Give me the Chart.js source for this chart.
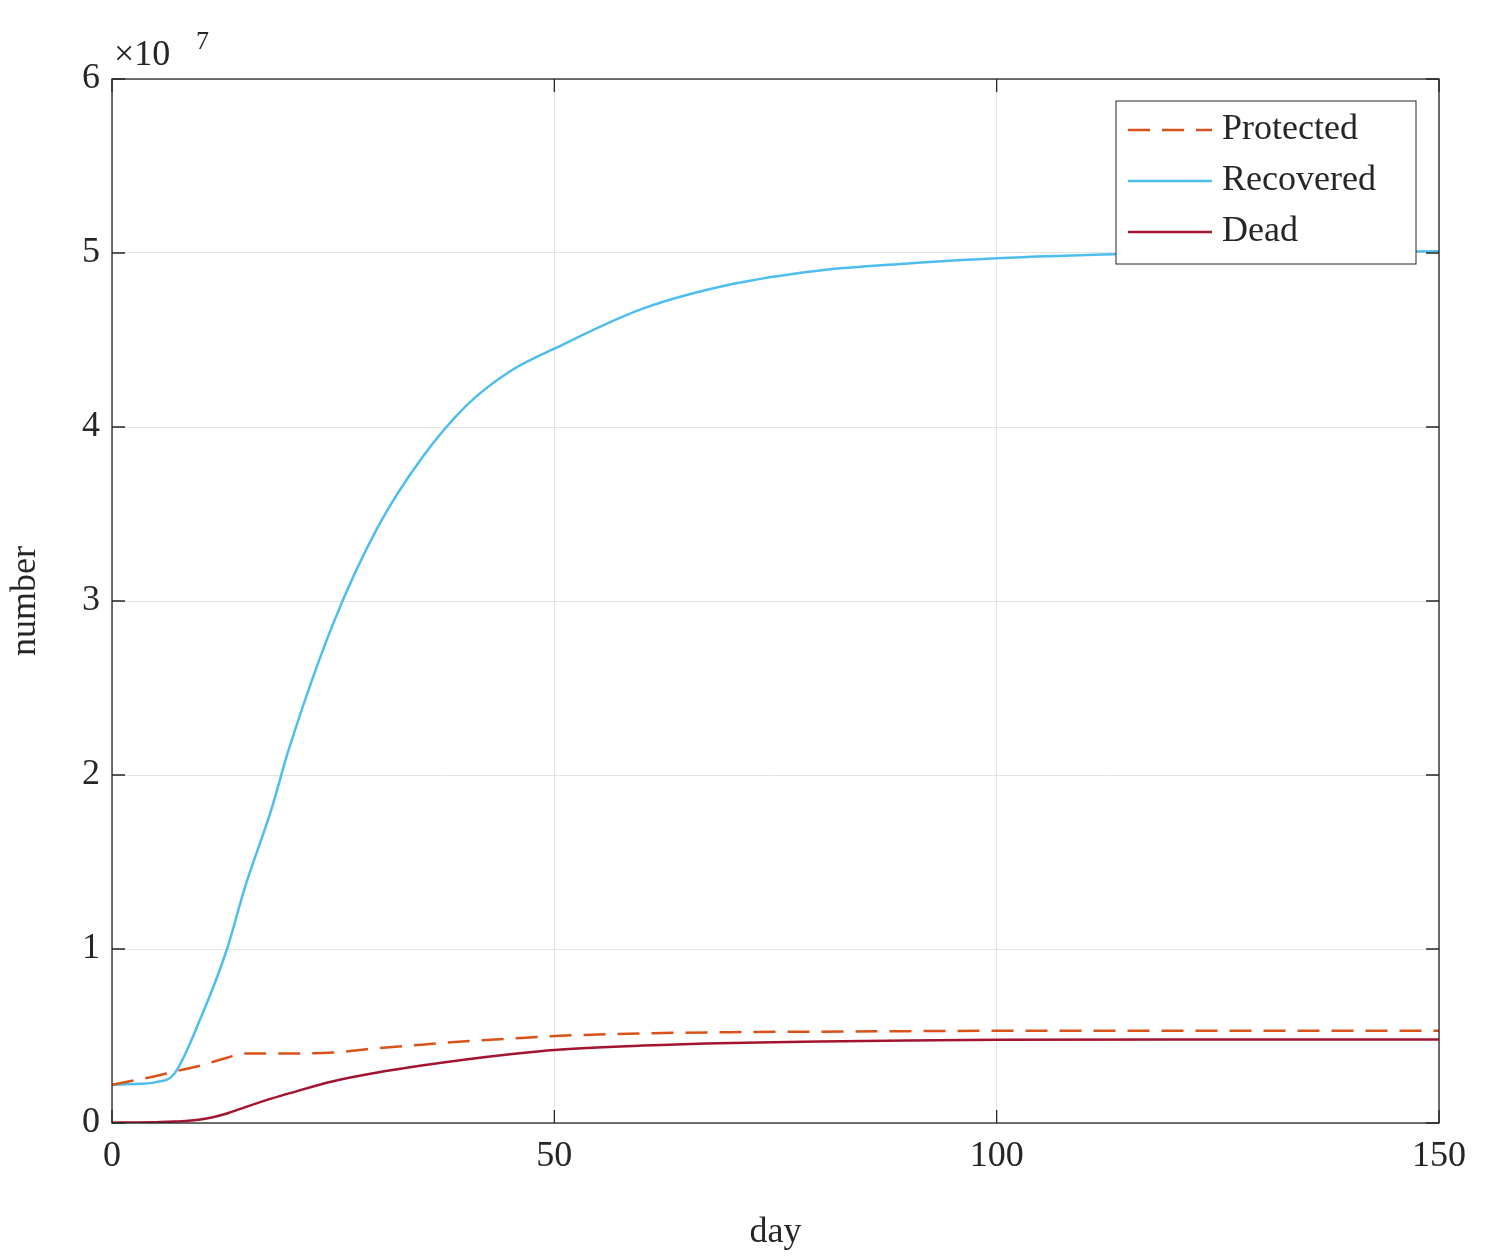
<!DOCTYPE html>
<html>
<head>
<meta charset="utf-8">
<script src="https://cdn.jsdelivr.net/npm/chart.js@4"></script>
<style>
  html, body { margin: 0; padding: 0; background: #fff; }
  #wrap { width: 1500px; height: 1258px; }
</style>
</head>
<body>
<div id="wrap"><canvas id="c"></canvas></div>
<script>
const days = [0, 3, 5, 7, 10, 13, 15, 18, 20, 25, 30, 35, 40, 45, 50, 60, 70, 80, 90, 100, 120, 150];
const recovered = [2.2e6, 2.25e6, 2.35e6, 2.8e6, 6.0e6, 1.0e7, 1.35e7, 1.8e7, 2.15e7, 2.87e7, 3.42e7, 3.82e7, 4.12e7, 4.32e7, 4.45e7, 4.68e7, 4.82e7, 4.9e7, 4.94e7, 4.97e7, 5.0e7, 5.01e7];
const protectedN = [2.2e6, 2.5e6, 2.7e6, 2.95e6, 3.3e6, 3.75e6, 4.0e6, 4.0e6, 4.0e6, 4.05e6, 4.3e6, 4.5e6, 4.7e6, 4.85e6, 5.0e6, 5.15e6, 5.22e6, 5.25e6, 5.28e6, 5.3e6, 5.3e6, 5.3e6];
const dead = [0.02e6, 0.03e6, 0.05e6, 0.08e6, 0.2e6, 0.55e6, 0.9e6, 1.4e6, 1.7e6, 2.4e6, 2.9e6, 3.3e6, 3.65e6, 3.95e6, 4.2e6, 4.45e6, 4.6e6, 4.68e6, 4.74e6, 4.78e6, 4.8e6, 4.8e6];
const seriesNames = ['Protected', 'Recovered', 'Dead'];
const xTicks = [0, 50, 100, 150];

const FONT = '"Liberation Serif", "DejaVu Serif", serif';
const pts = arr => days.map((d, i) => ({ x: d, y: arr[i] }));

// box, inward ticks, exponent label and legend, matlab style
const decor = {
  id: 'decor',
  afterDraw(chart) {
    const { ctx, chartArea: a, scales: { x, y } } = chart;
    ctx.save();
    ctx.strokeStyle = '#262626';
    ctx.lineWidth = 1.3;
    ctx.strokeRect(a.left, a.top, a.right - a.left, a.bottom - a.top);
    ctx.beginPath();
    xTicks.forEach(v => {
      const px = x.getPixelForValue(v);
      ctx.moveTo(px, a.bottom); ctx.lineTo(px, a.bottom - 13);
      ctx.moveTo(px, a.top); ctx.lineTo(px, a.top + 13);
    });
    for (let v = 0; v <= 6e7; v += 1e7) {
      const py = y.getPixelForValue(v);
      ctx.moveTo(a.left, py); ctx.lineTo(a.left + 13, py);
      ctx.moveTo(a.right, py); ctx.lineTo(a.right - 13, py);
    }
    ctx.stroke();

    ctx.fillStyle = '#262626';
    ctx.font = '36px ' + FONT;
    ctx.textBaseline = 'alphabetic';
    ctx.fillText('\u00d710', a.left + 2, a.top - 14);
    ctx.font = '26px ' + FONT;
    ctx.fillText('7', a.left + 84, a.top - 30);

    // legend
    const lx = 1116, ly = 101, lw = 300, lh = 163;
    ctx.fillStyle = '#fff';
    ctx.fillRect(lx, ly, lw, lh);
    ctx.lineWidth = 1;
    ctx.strokeRect(lx, ly, lw, lh);
    ctx.font = '36px ' + FONT;
    ctx.textBaseline = 'middle';
    chart.data.datasets.forEach((ds, i) => {
      const cy = ly + 29 + i * 51;
      ctx.strokeStyle = ds.borderColor;
      ctx.lineWidth = ds.borderWidth;
      ctx.setLineDash(ds.borderDash || []);
      ctx.beginPath();
      ctx.moveTo(lx + 12, cy); ctx.lineTo(lx + 96, cy);
      ctx.stroke();
      ctx.setLineDash([]);
      ctx.fillStyle = '#262626';
      ctx.fillText(ds.label, lx + 106, cy);
    });
    ctx.restore();
  }
};

new Chart(document.getElementById('c'), {
  type: 'line',
  data: {
    datasets: [
      { label: seriesNames[0], data: pts(protectedN), borderColor: '#d95319', borderWidth: 2.5, borderDash: [22, 12] },
      { label: seriesNames[1], data: pts(recovered), borderColor: '#4dbeee', borderWidth: 2.5 },
      { label: seriesNames[2], data: pts(dead), borderColor: '#a2142f', borderWidth: 2.5 },
    ]
  },
  options: {
    responsive: true,
    maintainAspectRatio: false,
    animation: false,
    elements: { point: { radius: 0 }, line: { cubicInterpolationMode: 'monotone' } },
    layout: { padding: { top: 79, right: 61, left: 0, bottom: 0 } },
    plugins: { legend: { display: false }, tooltip: { enabled: false } },
    scales: {
      x: {
        type: 'linear', min: 0, max: 150,
        afterBuildTicks: s => { s.ticks = xTicks.map(v => ({ value: v })); },
        afterFit: s => { s.height = 135; },
        grid: { color: '#e3e3e3', drawTicks: false },
        border: { display: false },
        ticks: { color: '#262626', font: { family: FONT, size: 36 }, padding: 12, maxRotation: 0 },
        title: { display: true, text: 'day', color: '#262626', font: { family: FONT, size: 36 }, padding: { top: 8 } }
      },
      y: {
        min: 0, max: 6e7,
        afterFit: s => { s.width = 112; },
        grid: { color: '#e3e3e3', drawTicks: false },
        border: { display: false },
        ticks: { stepSize: 1e7, color: '#262626', font: { family: FONT, size: 36 }, padding: 12, callback: v => v / 1e7 },
        title: { display: true, text: 'number', color: '#262626', font: { family: FONT, size: 36 }, padding: { bottom: 12 } }
      }
    }
  },
  plugins: [decor]
});
</script>
</body>
</html>
